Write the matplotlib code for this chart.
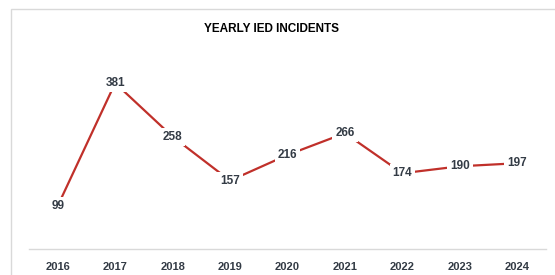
import matplotlib.pyplot as plt
from matplotlib.patches import Rectangle

years = ['2016', '2017', '2018', '2019', '2020', '2021', '2022', '2023', '2024']
incidents = [99, 381, 258, 157, 216, 266, 174, 190, 197]

fig = plt.figure(figsize=(5.55, 2.75), dpi=100)
fig.patch.set_facecolor('white')

# marco del grafico
fig.patches.append(Rectangle((11 / 555, -0.05), 1.0, 1 - 9 / 275 + 0.05,
                             transform=fig.transFigure, fill=False,
                             edgecolor='#d9d9d9', linewidth=1))

ax = fig.add_axes([29 / 555, 26 / 275, 517 / 555, 209 / 275])
x = range(len(years))
ax.plot(x, incidents, color='#c0302a', linewidth=1.6, zorder=2)

for i, v in zip(x, incidents):
    ax.text(i, v, str(v), ha='center', va='center', fontsize=8.5,
            fontweight='bold', color='#333b45', family='Liberation Sans',
            bbox=dict(facecolor='white', edgecolor='none', pad=2.2), zorder=3)

ax.set_xlim(-0.5, 8.5)
ax.set_ylim(0, 480)
ax.set_xticks(list(x))
ax.set_xticklabels(years, fontsize=8, fontweight='bold', color='#333b45',
                   family='Liberation Sans')
ax.tick_params(axis='x', length=0, pad=9)
ax.set_yticks([])
for s in ['top', 'right', 'left']:
    ax.spines[s].set_visible(False)
ax.spines['bottom'].set_color('#d9d9d9')
ax.spines['bottom'].set_linewidth(1)

fig.text(272 / 555, 1 - 29 / 275, 'YEARLY IED INCIDENTS', ha='center', va='center',
         fontsize=8.5, fontweight='bold', color='black', family='Liberation Sans')

fig.savefig('out.png', dpi=100)
